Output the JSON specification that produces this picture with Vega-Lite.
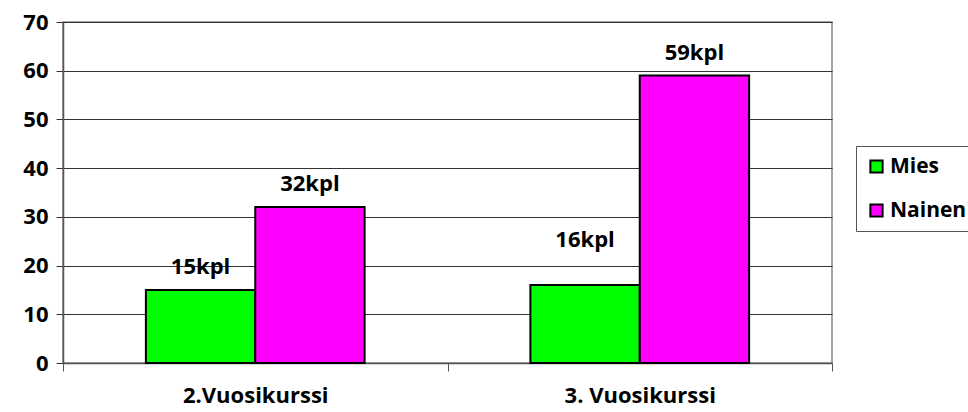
{
  "$schema": "https://vega.github.io/schema/vega-lite/v6.json",
  "width": 769,
  "height": 341,
  "autosize": {"type": "none"},
  "padding": {"left": 63, "top": 22, "right": 136, "bottom": 49},
  "background": "white",
  "config": {
    "font": "Open Sans",
    "view": {"stroke": "#888888", "strokeWidth": 1.5}
  },
  "data": {
    "values": [
      {"kurssi": "2.Vuosikurssi", "sukupuoli": "Mies", "lukumaara": 15, "label": "15kpl"},
      {"kurssi": "2.Vuosikurssi", "sukupuoli": "Nainen", "lukumaara": 32, "label": "32kpl"},
      {"kurssi": "3. Vuosikurssi", "sukupuoli": "Mies", "lukumaara": 16, "label": "16kpl"},
      {"kurssi": "3. Vuosikurssi", "sukupuoli": "Nainen", "lukumaara": 59, "label": "59kpl"}
    ]
  },
  "encoding": {
    "x": {
      "field": "kurssi", "type": "nominal", "title": null,
      "scale": {"paddingInner": 0, "paddingOuter": 0},
      "axis": {
        "labelAngle": 0, "labelFont": "Open Sans", "labelFontWeight": "bold", "labelFontSize": 22,
        "labelColor": "#000000", "labelPadding": 14, "tickBand": "extent", "tickSize": 8,
        "tickColor": "#555555", "domainColor": "#555555", "domainWidth": 1.5, "grid": false
      }
    },
    "xOffset": {
      "field": "sukupuoli", "type": "nominal",
      "scale": {"paddingOuter": 0.758, "paddingInner": 0}
    },
    "y": {
      "field": "lukumaara", "type": "quantitative", "title": null,
      "scale": {"domain": [0, 70]},
      "axis": {
        "values": [0, 10, 20, 30, 40, 50, 60, 70], "labelFont": "Open Sans", "labelFontWeight": "bold",
        "labelFontSize": 22, "labelColor": "#000000", "labelPadding": 8, "tickSize": 7,
        "tickColor": "#333333", "domainColor": "#555555", "domainWidth": 1.5,
        "gridColor": "#333333", "gridWidth": 1
      }
    }
  },
  "layer": [
    {
      "mark": {"type": "bar", "stroke": "#000000", "strokeWidth": 2},
      "encoding": {
        "color": {
          "field": "sukupuoli", "type": "nominal", "title": null,
          "scale": {"domain": ["Mies", "Nainen"], "range": ["#00FF00", "#FF00FF"]},
          "legend": {
            "orient": "none", "legendX": 793, "legendY": 124,
            "symbolType": "square", "symbolSize": 150, "symbolStrokeColor": "#000000", "symbolStrokeWidth": 2,
            "symbolOpacity": 1,
            "labelFont": "Open Sans", "labelFontWeight": "bold", "labelFontSize": 21, "labelColor": "#000000",
            "rowPadding": 22, "padding": 10, "strokeColor": "#555555", "fillColor": "white",
            "labelOffset": 3
          }
        }
      }
    },
    {
      "transform": [{"filter": "datum.label !== '16kpl'"}],
      "mark": {"type": "text", "dy": -23, "font": "Open Sans", "fontWeight": "bold", "fontSize": 22, "color": "#000000"},
      "encoding": {"text": {"field": "label"}}
    },
    {
      "transform": [{"filter": "datum.label === '16kpl'"}],
      "mark": {"type": "text", "dy": -45, "font": "Open Sans", "fontWeight": "bold", "fontSize": 22, "color": "#000000"},
      "encoding": {"text": {"field": "label"}}
    }
  ]
}
